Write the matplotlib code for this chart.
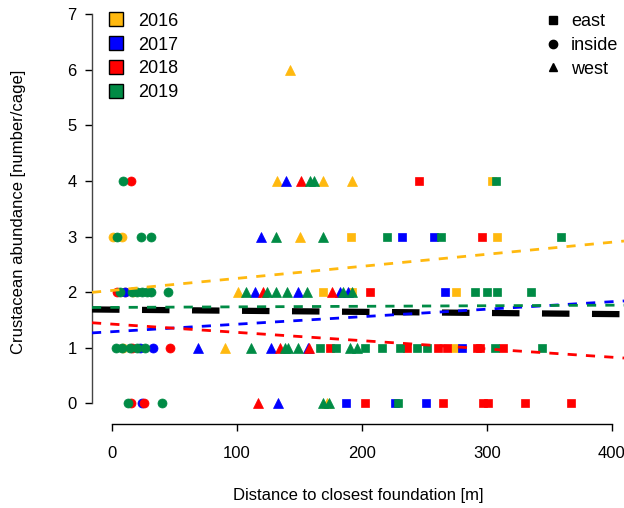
import matplotlib
matplotlib.use("Agg")
import matplotlib.pyplot as plt
from matplotlib.lines import Line2D
import numpy as np

plt.rcParams['font.family'] = ['Liberation Sans', 'DejaVu Sans']

# ---- data: (distance [m], crustaceans per cage) by year and location ----
years = ["2016", "2017", "2018", "2019"]
year_colors = ["#FFB90F", "#0000FF", "#FF0000", "#008B45"]
locations = ["east", "inside", "west"]
loc_markers = {"east": "s", "inside": "o", "west": "^"}

# 2016
d16_inside = [1, 8, 10, 17, 9]
n16_inside = [3, 3, 2, 2, 1]
d16_west = [142.6, 131.7, 169, 192, 150.4, 100.5, 90, 172]
n16_west = [6, 4, 4, 4, 3, 2, 1, 0]
d16_east = [303.7, 191, 307.7, 168.5, 191.8, 275, 274.4]
n16_east = [4, 3, 3, 2, 2, 2, 1]

# 2017
d17_inside = [10, 22, 33, 23.7]
n17_inside = [2, 1, 1, 0]
d17_west = [139, 119, 114, 148.5, 182.4, 189, 68.5, 127, 157, 133]
n17_west = [4, 3, 2, 2, 2, 2, 1, 1, 1, 0]
d17_east = [232, 257.6, 266.7, 279.7, 187, 226, 251.2]
n17_east = [3, 3, 2, 1, 0, 0, 0]

# 2018
d18_inside = [15, 4, 16, 46.4, 15.5, 25.9]
n18_inside = [4, 2, 1, 1, 0, 0]
d18_west = [151, 120.5, 175.7, 134.4, 157.6, 117]
n18_west = [4, 2, 2, 1, 1, 0]
d18_east = [245.6, 295.7, 206, 174.4, 235.7, 261, 268, 291.7, 294, 313,
            202.4, 265, 297, 301, 330.4, 367]
n18_east = [4, 3, 2, 1, 1, 1, 1, 1, 1, 1, 0, 0, 0, 0, 0, 0]

# 2019
d19_inside = [9, 3.7, 23, 31, 6, 16, 20, 24, 28, 31, 45, 3, 8, 14, 20, 26, 13, 39.7]
n19_inside = [4, 3, 3, 3, 2, 2, 2, 2, 2, 2, 2, 1, 1, 1, 1, 1, 0, 0]
d19_west = [158, 161.6, 131, 168.5, 107, 123.7, 131, 139.7, 156, 185, 191.7,
            111, 138.4, 141, 149, 190, 196, 169, 173.9]
n19_west = [4, 4, 3, 3, 2, 2, 2, 2, 2, 2, 2, 1, 1, 1, 1, 1, 1, 0, 0]
d19_east = [307, 220, 263, 359, 290.4, 300, 308, 335, 166.4, 179, 202, 215.7,
            230, 243.7, 251.7, 306, 343.7, 229]
n19_east = [4, 3, 3, 3, 2, 2, 2, 2, 1, 1, 1, 1, 1, 1, 1, 1, 1, 0]

# fitted lines (intercept, slope) per year and for all years pooled
fit_intercepts = [2.03, 1.288, 1.425, 1.725]
fit_slopes = [0.00217, 0.00135, -0.00149, 0.0001]
fit_all_intercept = 1.685
fit_all_slope = -0.0002

x_ticks = [0, 100, 200, 300, 400]
y_ticks = [0, 1, 2, 3, 4, 5, 6, 7]

points = {
    "2016": {"east": (d16_east, n16_east), "inside": (d16_inside, n16_inside), "west": (d16_west, n16_west)},
    "2017": {"east": (d17_east, n17_east), "inside": (d17_inside, n17_inside), "west": (d17_west, n17_west)},
    "2018": {"east": (d18_east, n18_east), "inside": (d18_inside, n18_inside), "west": (d18_west, n18_west)},
    "2019": {"east": (d19_east, n19_east), "inside": (d19_inside, n19_inside), "west": (d19_west, n19_west)},
}
marker_sizes = {"s": 6.0, "o": 6.5, "^": 7.2}

fig = plt.figure(figsize=(6.24, 5.08), dpi=100)
ax = fig.add_axes([92 / 624, (508 - 424) / 508, 532 / 624, 424 / 508])

for yr, col in zip(years, year_colors):
    for loc in locations:
        d, n = points[yr][loc]
        m = loc_markers[loc]
        ax.plot(d, n, linestyle="none", marker=m, markersize=marker_sizes[m],
                markerfacecolor=col, markeredgecolor=col, markeredgewidth=0.5, zorder=2)

xlim = (-16, 409.6)
xx = np.array(xlim)
ax.plot(xx, fit_all_intercept + fit_all_slope * xx, color="black", lw=4.5,
        dashes=(4.4, 3.6), zorder=3, solid_capstyle="butt", dash_capstyle="butt")
for a, b, col in zip(fit_intercepts, fit_slopes, year_colors):
    ax.plot(xx, a + b * xx, color=col, lw=2, dashes=(3.3, 3.3), zorder=4,
            dash_capstyle="butt")

ax.set_xlim(*xlim)
ax.set_ylim(-0.372, 7.254)
ax.set_xticks(x_ticks)
ax.set_yticks(y_ticks)
ax.set_xticklabels([str(v) for v in x_ticks])
ax.set_yticklabels([str(v) for v in y_ticks])
for side in ("top", "right"):
    ax.spines[side].set_visible(False)
ax.spines["left"].set_bounds(0, 7)
ax.spines["bottom"].set_bounds(0, 400)
ax.spines["left"].set_color("#444444")
for side in ("left", "bottom"):
    ax.spines[side].set_linewidth(1.0)
ax.tick_params(direction="out", length=5, width=1.0, labelsize=12, colors="black")
ax.tick_params(axis="x", pad=11)
ax.tick_params(axis="y", pad=6)
ax.patch.set_visible(False)

ax.set_xlabel("Distance to closest foundation [m]", fontsize=12, labelpad=19)
ax.set_ylabel("Crustacean abundance [number/cage]", fontsize=12, labelpad=30)

year_handles = [Line2D([], [], linestyle="none", marker="s", markersize=9.5,
                       markerfacecolor=c, markeredgecolor="black", markeredgewidth=1.0)
                for c in year_colors]
leg1 = ax.legend(year_handles, years, loc="upper left", bbox_to_anchor=(0.005, 1.0),
                 frameon=False, fontsize=13, handletextpad=0.7, labelspacing=0.38,
                 borderaxespad=0.3, handlelength=1.0)
ax.add_artist(leg1)

loc_handles = [Line2D([], [], linestyle="none", marker=loc_markers[l], markersize=6,
                      color="black") for l in locations]
ax.legend(loc_handles, locations, loc="upper right", bbox_to_anchor=(1.0, 0.982),
          frameon=False, fontsize=13, handletextpad=0.5, labelspacing=0.38,
          borderaxespad=0.1, borderpad=0.2, handlelength=1.0)

fig.savefig("out.png", dpi=100)
